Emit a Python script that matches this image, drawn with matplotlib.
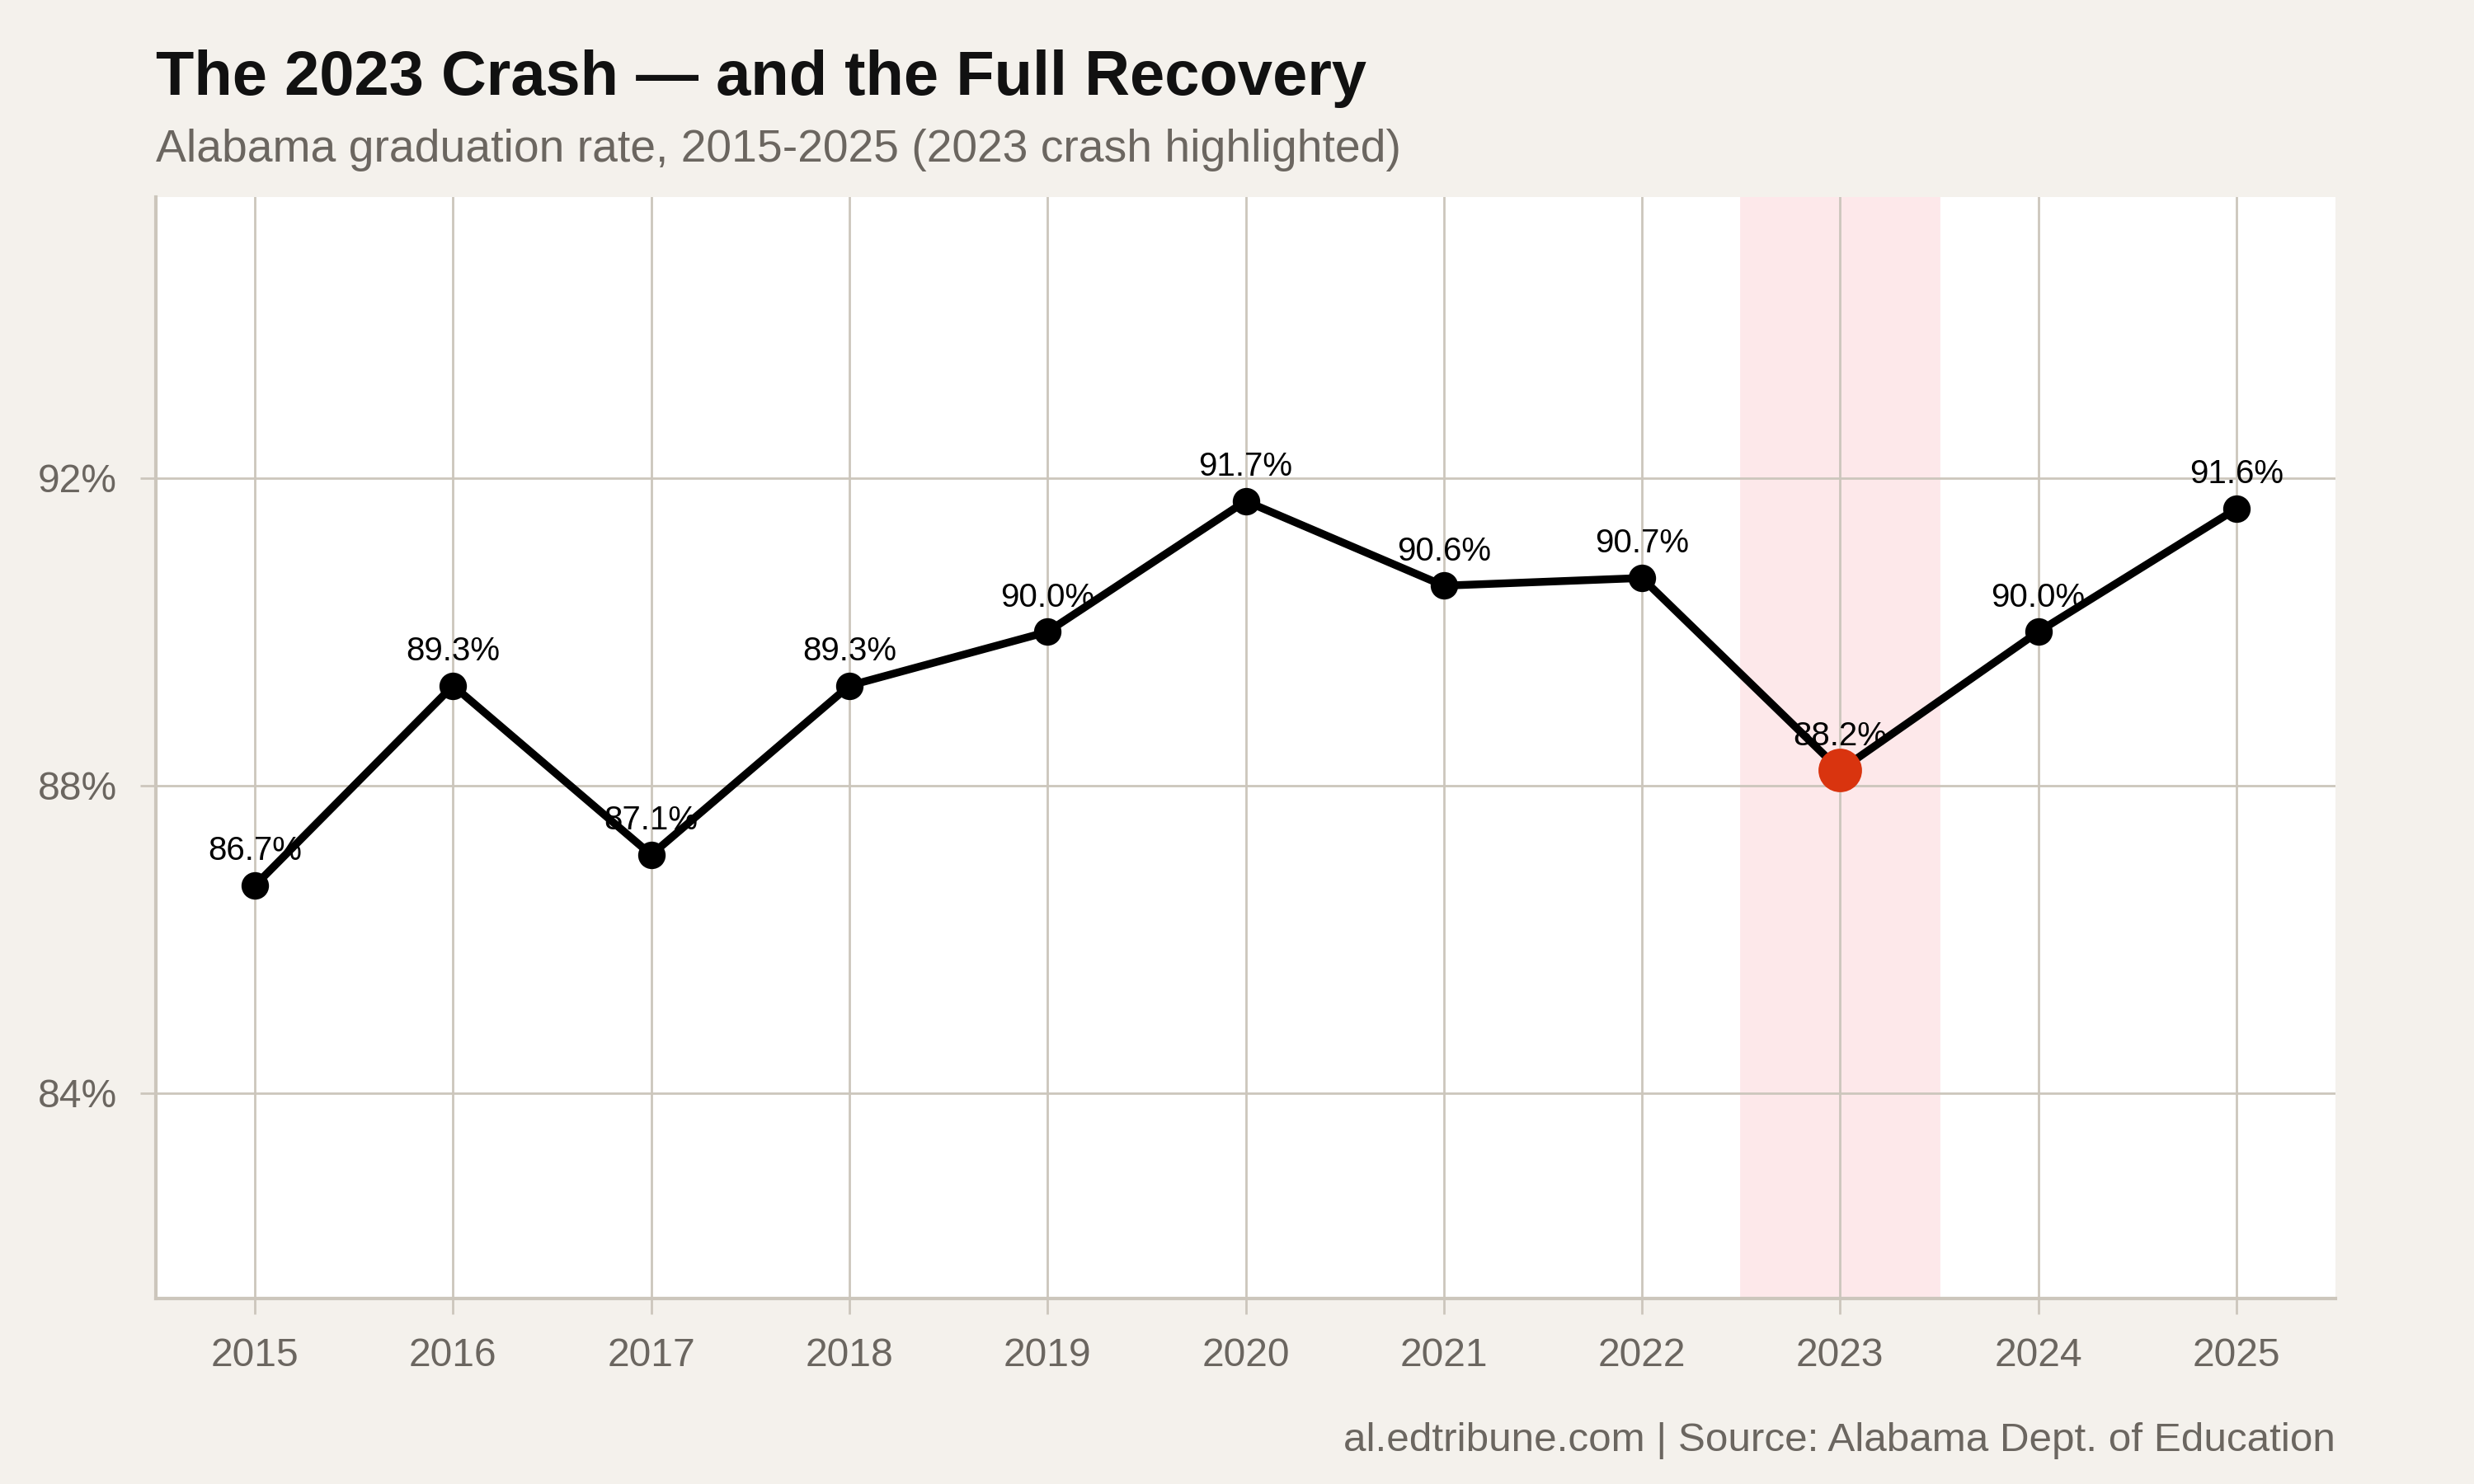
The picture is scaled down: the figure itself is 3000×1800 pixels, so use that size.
import matplotlib.pyplot as plt

plt.rcParams['font.family'] = ['Liberation Sans', 'DejaVu Sans']

# Alabama graduation rate
years = [2015, 2016, 2017, 2018, 2019, 2020, 2021, 2022, 2023, 2024, 2025]
rates = [86.7, 89.3, 87.1, 89.3, 90.0, 91.7, 90.6, 90.7, 88.2, 90.0, 91.6]
crash_year = 2023
y_ticks = [84, 88, 92]

bg = '#f4f1ec'
grid_col = '#ccc6bc'
text_gray = '#6b6660'

fig = plt.figure(figsize=(15, 9), dpi=200, facecolor=bg)
ax = fig.add_axes([0.063, 0.125, 0.881, 0.742])
ax.set_facecolor('white')

# highlight the crash year
ax.axvspan(crash_year - 0.5, crash_year + 0.5, color='#fde8ea', zorder=0)

ax.plot(years, rates, color='black', lw=3.4, marker='o', ms=11, zorder=3)
i = years.index(crash_year)
ax.plot(years[i], rates[i], 'o', color='#d9340f', ms=18, zorder=4)

for x, y in zip(years, rates):
    ax.annotate(f'{y:.1f}%', (x, y), xytext=(0, 15), textcoords='offset points',
                ha='center', va='center', fontsize=14.5, color='black', zorder=2)

ax.set_xlim(2014.5, 2025.5)
ax.set_ylim(81.33, 95.65)
ax.set_xticks(years)
ax.set_yticks(y_ticks)
ax.set_yticklabels([f'{v}%' for v in y_ticks])
ax.grid(True, color=grid_col, lw=1.0, zorder=1)
ax.set_axisbelow(True)
ax.tick_params(colors=grid_col, labelcolor=text_gray, labelsize=17.3, length=7, width=1, pad=10)

for s in ['top', 'right']:
    ax.spines[s].set_visible(False)
for s in ['left', 'bottom']:
    ax.spines[s].set_color(grid_col)
    ax.spines[s].set_linewidth(1.5)

fig.text(0.063, 0.947, 'The 2023 Crash — and the Full Recovery', fontsize=27.3,
         fontweight='bold', color='#111111', va='center', ha='left')
fig.text(0.063, 0.899, 'Alabama graduation rate, 2015-2025 (2023 crash highlighted)',
         fontsize=19.9, color=text_gray, va='center', ha='left')
fig.text(0.944, 0.029, 'al.edtribune.com | Source: Alabama Dept. of Education',
         fontsize=17.8, color=text_gray, va='center', ha='right')

plt.savefig('out.png', dpi=200, facecolor=bg)
